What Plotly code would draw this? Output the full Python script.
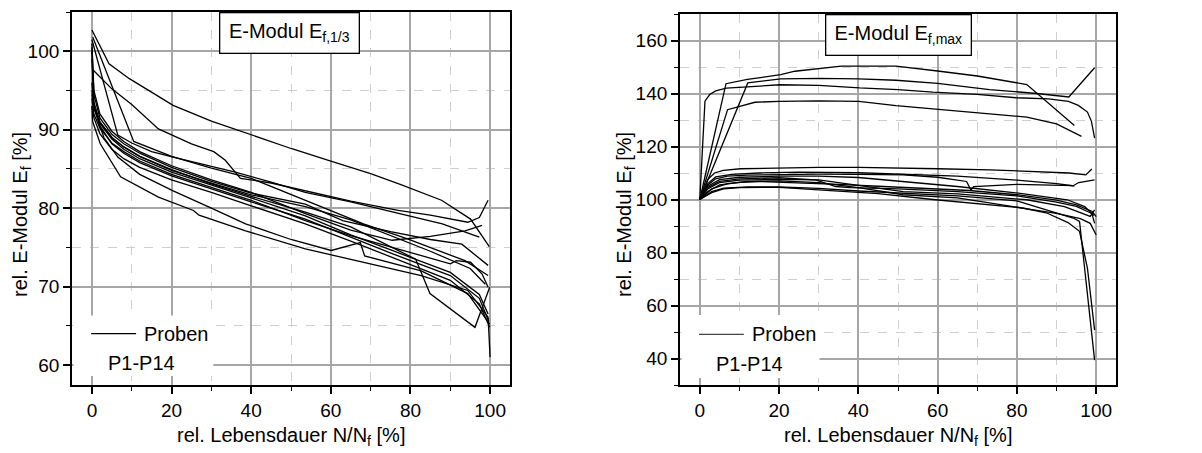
import plotly.graph_objects as go

# ---------------- Data: left panel (E-Modul E_f,1/3) ----------------
L_x = [
    [0, 4.3, 9.4, 20.4, 30, 38.6, 50, 60, 70, 77.6, 87.8, 95.1, 99.8],
    [0.3, 5, 10, 16.7, 25, 30.6, 33.5, 37.3, 45, 53.6, 65, 76.9, 85, 94.4, 97.3, 99.5],
    [0, 6.5, 10, 15, 20.4, 30, 36, 45, 53.6, 65, 77.6, 88, 97.3],
    [0.2, 10.5, 20, 30, 40, 53.6, 62.3, 68.2, 79.1, 93.7, 99.5],
    [0, 0.5, 2, 5, 8, 12, 20, 30, 40, 53.6, 65, 75.4, 85, 93.7, 98],
    [0, 0.5, 2, 5, 8, 12, 20, 30, 40, 53.6, 63, 75, 85, 92.9, 99.5],
    [0, 0.5, 2, 5, 8, 12, 20, 30, 40, 53.6, 65, 81.3, 84.9, 96.2, 99.9],
    [0, 0.5, 2, 5, 8, 12, 20, 30, 40, 53.6, 65, 75.4, 90, 91.5, 95.1, 98, 99.5],
    [0, 0.5, 2, 5, 8, 12, 20, 30, 40, 53.6, 65, 75.4, 90, 97.3, 99.9],
    [0, 0.5, 2, 5, 8, 12, 20, 30, 40, 53.6, 65, 75.4, 90, 97.3, 99.7],
    [0, 0.5, 2, 5, 8, 12, 20, 30, 40, 53.6, 65, 75.4, 90, 97.3, 99.5],
    [0, 0.7, 3, 6.5, 12, 20.4, 30, 38.6, 50, 60.1, 67.4, 68.5, 82.7, 94.4, 99.9],
    [0, 0.2, 2.1, 7.2, 16.7, 25.5, 26.9, 38.6, 53.6, 82.7, 94.4, 99.5, 100],
    [0, 0.5, 2, 5, 8, 12, 20, 30, 40, 53.6, 65, 75, 85, 95, 98.8],
]
L_y = [
    [102.7, 98.4, 96.5, 93.1, 91.1, 89.6, 87.6, 86.0, 84.4, 83.0, 81.0, 78.6, 75.1],
    [97.6, 95.2, 93.2, 90.1, 88.2, 87.2, 86.1, 83.8, 83.2, 82.2, 80.9, 79.7, 79.1, 78.2, 78.8, 81.0],
    [101.5, 89.3, 88.3, 87.2, 86.5, 85.3, 84.6, 83.3, 82.0, 80.8, 79.3, 78.0, 76.3],
    [101.8, 88.5, 86.6, 85.1, 83.8, 81.0, 79.3, 78.0, 76.1, 73.3, 71.4],
    [101, 95, 92, 89.8, 88.5, 87.2, 85.4, 83.6, 82.0, 79.3, 77.2, 75.9, 76.4, 77.1, 77.8],
    [100.5, 94.5, 91.5, 89.4, 88.2, 87.0, 85.2, 83.4, 81.9, 80.5, 78.4, 77.0, 76.0, 75.4, 72.7],
    [95, 93, 91, 89, 87.8, 86.6, 84.9, 83.1, 81.5, 79.5, 77.6, 73.5, 69.1, 64.8, 69.9],
    [94, 92, 90.2, 88.3, 87.2, 86.0, 84.3, 82.6, 81.0, 78.4, 76.5, 75.0, 72.9, 73.3, 73.1, 71.6, 69.9],
    [93, 91.5, 89.5, 87.5, 86.3, 85.2, 83.6, 82.0, 80.3, 78.0, 75.8, 73.7, 70.8, 67.8, 64.8],
    [100, 93, 90.5, 88.2, 87.0, 85.8, 84.1, 82.4, 80.8, 78.6, 76.3, 74.2, 71.4, 68.5, 65.5],
    [96, 92.8, 90.8, 88.8, 87.5, 86.3, 84.6, 82.9, 81.3, 79.0, 76.6, 74.6, 71.8, 69.0, 66.5],
    [94.5, 92.5, 89.0, 86.5, 84.3, 82.2, 80.0, 78.0, 76.0, 74.6, 75.6, 73.9, 72.0, 69.1, 65.2],
    [93, 91, 88.2, 84.0, 81.4, 79.7, 79.1, 77.1, 74.8, 71.4, 69.5, 66.1, 61.0],
    [99, 93.5, 91, 89, 87.8, 86.6, 84.8, 83.2, 81.7, 80.2, 78.5, 76.5, 74.5, 72.3, 70.3],
]

# ---------------- Data: right panel (E-Modul E_f,max) ----------------
R_x = [
    [0, 1.3, 2.5, 4, 6.7, 12, 20.2, 30, 40.3, 50, 58.8, 70, 79.8, 88, 93, 95.5, 97.8, 98.8, 99.6],
    [0, 6.6, 12, 20.4, 24, 30, 35.7, 40, 49.5, 60, 70, 82.5, 94.5],
    [0, 12.1, 20.4, 30, 40.1, 49.5, 60, 73.1, 85, 93.1, 99.6],
    [0, 7, 13.9, 20, 30, 40.1, 49.5, 60, 70, 82.5, 90, 96.3],
    [0, 2, 3.7, 5.9, 10.3, 20, 30, 40, 51.3, 60, 73.1, 85, 93.1, 97.4, 98.9],
    [0, 2, 4, 7, 12, 20, 30, 40, 51.3, 60, 67.3, 68.4, 69.1, 80, 94.2, 95.6, 99.6],
    [0, 2, 4, 8, 15, 25, 40, 51.3, 65, 80, 90, 94.5],
    [0, 2, 5, 10, 20, 30, 40, 51.3, 65, 80.4, 92.7, 97.1, 98.9, 99.6],
    [0, 2, 5, 10, 20, 30, 40, 51.3, 65, 82.5, 92, 96.3, 98.5, 99.6],
    [0, 3, 7, 12, 20, 30, 40, 51.3, 65, 81.8, 87.4, 92.9, 95.8, 97.8, 99.6],
    [0, 3, 6, 12, 20, 30, 40, 51.3, 65, 80, 87.7, 94.2, 95.8, 99.6],
    [0, 3, 6, 10, 20, 33.6, 45, 58.8, 70, 80, 90, 96, 98.5, 100],
    [0, 2, 5, 10, 20, 29.2, 34.3, 38, 50, 65, 80, 90, 95, 98.5, 99.5],
    [0, 2, 5, 10, 15, 25, 35, 45, 55, 68, 80, 90, 95, 99, 100],
]
R_y = [
    [100, 137.1, 139.6, 141, 142, 142.6, 143.3, 143.1, 142.1, 141.5, 140.5, 139.7, 138.4, 138, 137, 135.5, 133, 129.5, 123.2],
    [100, 143.7, 145.3, 147.1, 148.4, 149.3, 150.3, 150.3, 150.3, 148.5, 146.6, 143.4, 127.9],
    [100, 144, 145.5, 145.7, 145.5, 145, 143.8, 141.5, 140, 138.7, 149.7],
    [100, 133.9, 136.7, 137, 137.2, 137, 135.4, 134, 132.8, 131.1, 128.5, 123.8],
    [100, 107.5, 110, 111, 111.6, 111.9, 112.1, 112.1, 111.9, 111.6, 111.2, 110.6, 110, 109.3, 111.5],
    [100, 105.5, 107.8, 108.8, 109.2, 109.5, 109.6, 109.5, 109.3, 108.4, 106.8, 103.6, 104.9, 105.7, 105.2, 106.4, 107.4],
    [100, 106, 108.5, 109.5, 110, 110.3, 110.1, 109.6, 108.8, 107.3, 106, 105.1],
    [100, 105, 107.5, 108.4, 108.8, 108.8, 108.3, 106.8, 104.9, 102.4, 99.9, 97.3, 94.8, 91.0],
    [100, 104, 106.4, 107.3, 107.6, 107.4, 105.3, 103, 102.1, 99.9, 97.3, 94.8, 93.6, 96.1],
    [100, 104, 106, 106.8, 107, 106.4, 104.5, 101.8, 100.6, 96.7, 95, 91.3, 88, 74, 50.7],
    [100, 103, 104.3, 104.8, 104.8, 104.2, 103.2, 102.4, 101.4, 99.5, 96.0, 93.0, 91.7, 39.4],
    [100, 102.6, 104, 104.5, 104.6, 103.4, 102.2, 100, 98.5, 97, 94.8, 92.8, 91, 86.6],
    [100, 104.5, 106.8, 107.8, 108.2, 107.4, 104.9, 104.5, 104, 103, 101.4, 99, 97.4, 95, 94],
    [100, 103, 105.5, 106.5, 106.8, 106.3, 105.7, 105, 104.2, 103.4, 101.8, 99.8, 98, 95.5, 93.5],
]

x_ticks = [0, 20, 40, 60, 80, 100]
left_y_ticks = [60, 70, 80, 90, 100]
right_y_ticks = [40, 60, 80, 100, 120, 140, 160]
left_title = "E-Modul E<sub>f,1/3</sub>"
right_title = "E-Modul E<sub>f,max</sub>"
legend_name = "Proben"
legend_sub = "P1-P14"
x_title = "rel. Lebensdauer N/N<sub>f</sub> [%]"
y_title = "rel. E-Modul E<sub>f</sub> [%]"

FONT = "Arial, Liberation Sans, Helvetica, sans-serif"
# the page body adds an 8 px margin, so the figure is drawn 8 px smaller
# and all pixel positions below are page positions minus 8
OFF = 8
W, H = 1202 - OFF, 453 - OFF
TICK_SIZE = 19
TEXT_SIZE = 20

fig = go.Figure()
for xs, ys in zip(L_x, L_y):
    fig.add_trace(go.Scatter(x=xs, y=ys, mode="lines", xaxis="x", yaxis="y",
                             line=dict(color="black", width=1.3), showlegend=False,
                             hoverinfo="skip"))
for xs, ys in zip(R_x, R_y):
    fig.add_trace(go.Scatter(x=xs, y=ys, mode="lines", xaxis="x2", yaxis="y2",
                             line=dict(color="black", width=1.3), showlegend=False,
                             hoverinfo="skip"))

# plot-area boxes in page pixels
Lx0, Lx1, Ly0, Ly1 = 72.0 - OFF, 510.0 - OFF, 12.0 - OFF, 385.0 - OFF
Rx0, Rx1, Ry0, Ry1 = 680.0 - OFF, 1116.0 - OFF, 14.0 - OFF, 385.0 - OFF


def minor_cfg(dt):
    return dict(dtick=dt, tick0=0, ticks="outside", ticklen=4,
                tickcolor="black", tickwidth=1, showgrid=True,
                gridcolor="#cfcfcf", gridwidth=1, griddash="dash")


def base_axis():
    return dict(ticks="outside", ticklen=7, tickwidth=1.5, tickcolor="black",
                showline=True, linecolor="black", linewidth=1.8, mirror=True,
                showgrid=True, gridcolor="#a6a6a6", gridwidth=1.5, zeroline=False,
                tickfont=dict(family=FONT, size=TICK_SIZE, color="black"),
                fixedrange=True)


fig.update_layout(
    width=W, height=H,
    margin=dict(l=0, r=0, t=0, b=0),
    paper_bgcolor="white", plot_bgcolor="white",
    font=dict(family=FONT, color="black"),
    xaxis=dict(**base_axis(), domain=[Lx0 / W, Lx1 / W], range=[-5, 105],
               tickvals=x_ticks, minor=minor_cfg(10), anchor="y"),
    yaxis=dict(**base_axis(), domain=[1 - Ly1 / H, 1 - Ly0 / H], range=[57.45, 105],
               tickvals=left_y_ticks, minor=minor_cfg(5), anchor="x"),
    xaxis2=dict(**base_axis(), domain=[Rx0 / W, Rx1 / W], range=[-5, 105],
                tickvals=x_ticks, minor=minor_cfg(10), anchor="y2"),
    yaxis2=dict(**base_axis(), domain=[1 - Ry1 / H, 1 - Ry0 / H], range=[30, 170],
                tickvals=right_y_ticks, minor=minor_cfg(10), anchor="x2"),
)

shapes = []
annotations = []

# legend-like boxes and samples
for xr, yr, box, line_y, txt_y, sub_y, lc in [
    ("x", "y", (-4.6, 30.5, 58.6, 66.3), 64.0, 64.0, 60.2, "black"),
    ("x2", "y2", (-4.6, 30.2, 32.6, 56.4), 49.1, 49.1, 38.1, "#444444"),
]:
    shapes.append(dict(type="rect", xref=xr, yref=yr, x0=box[0], x1=box[1],
                       y0=box[2], y1=box[3], fillcolor="white",
                       line=dict(width=0), layer="above"))
    shapes.append(dict(type="line", xref=xr, yref=yr, x0=-0.2, x1=11.1,
                       y0=line_y, y1=line_y, line=dict(color=lc, width=1.3),
                       layer="above"))
    annotations.append(dict(xref=xr, yref=yr, x=12.6, y=txt_y, text=legend_name,
                            showarrow=False, xanchor="left", yanchor="middle",
                            font=dict(family=FONT, size=TEXT_SIZE, color="black")))
    annotations.append(dict(xref=xr, yref=yr, x=12.5, y=sub_y, text=legend_sub,
                            showarrow=False, xanchor="center", yanchor="middle",
                            font=dict(family=FONT, size=TEXT_SIZE, color="black")))

# title boxes
annotations.append(dict(xref="x", yref="y domain", x=49.7, y=1, text=left_title,
                        showarrow=False, xanchor="center", yanchor="top",
                        width=138, height=39, bgcolor="white",
                        bordercolor="black", borderwidth=1.3, borderpad=0,
                        font=dict(family=FONT, size=TEXT_SIZE, color="black")))
annotations.append(dict(xref="x2", yref="y2 domain", x=50.1, y=1, text=right_title,
                        showarrow=False, xanchor="center", yanchor="top",
                        width=144, height=39, bgcolor="white",
                        bordercolor="black", borderwidth=1.3, borderpad=0,
                        font=dict(family=FONT, size=TEXT_SIZE, color="black")))

# axis titles
for cx in [(Lx0 + Lx1) / 2, (Rx0 + Rx1) / 2]:
    annotations.append(dict(xref="paper", yref="paper", x=cx / W,
                            y=1 - (436 - OFF) / H,
                            text=x_title, showarrow=False, xanchor="center",
                            yanchor="middle",
                            font=dict(family=FONT, size=TEXT_SIZE, color="black")))
for cx in [21 - OFF, 625 - OFF]:
    annotations.append(dict(xref="paper", yref="paper", x=cx / W,
                            y=1 - (215 - OFF) / H,
                            text=y_title, showarrow=False, xanchor="center",
                            yanchor="middle", textangle=-90,
                            font=dict(family=FONT, size=TEXT_SIZE, color="black")))

fig.update_layout(shapes=shapes, annotations=annotations)
fig.write_html("out.html")
